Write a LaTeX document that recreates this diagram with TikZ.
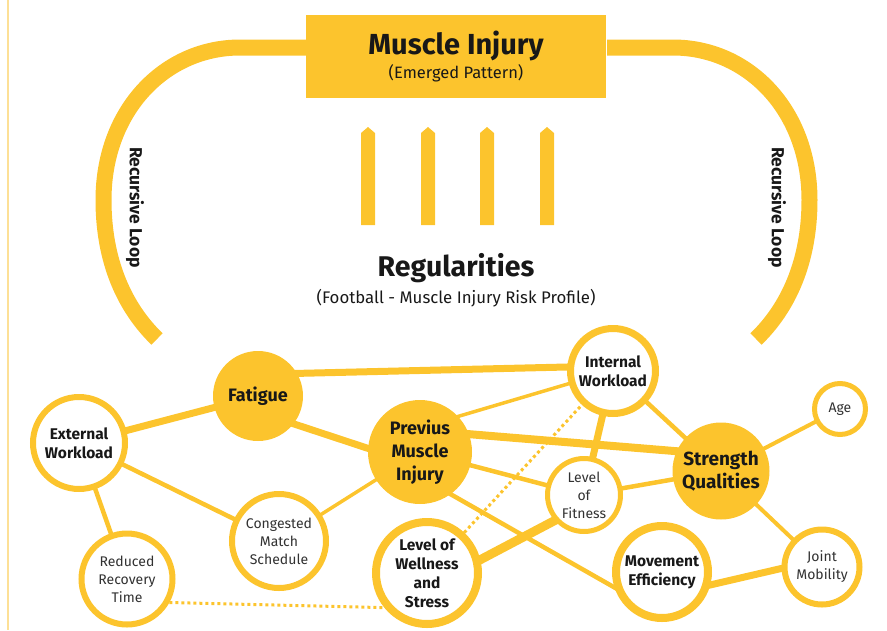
\documentclass[tikz,border=0pt]{standalone}
\usepackage{fontspec}
\setmainfont{Fira Sans}
\definecolor{gold}{RGB}{252,196,45}
\definecolor{palegold}{RGB}{253,224,150}
\definecolor{ink}{RGB}{24,24,24}
\definecolor{softink}{RGB}{50,50,50}

\begin{document}
\begin{tikzpicture}[x=1pt,y=-1pt,
  ring/.style={circle,draw=gold,fill=white,line width=6pt,inner sep=0pt,align=center,
    text=softink,font=\fontsize{14}{18}\selectfont},
  boldring/.style={ring,text=ink,font=\fontsize{15.5}{19}\selectfont\bfseries},
  hub/.style={circle,fill=gold,inner sep=0pt,align=center,text=ink,
    font=\fontsize{18}{23}\selectfont\bfseries},
  link/.style={draw=gold,line width=4.5pt,shorten <=-3pt,shorten >=-3pt},
  thinlink/.style={link,line width=3.5pt},
  heavylink/.style={link,line width=7pt},
  dotlink/.style={draw=gold,line width=3pt,dash pattern=on 3pt off 3pt},
  loopline/.style={draw=gold,line width=16pt},
  bar/.style={fill=gold}]
  \useasboundingbox (0,0) rectangle (887,630);
  \draw[palegold,line width=2pt] (8,0) -- (8,630);

  % top: emerged pattern and the two loops
  \draw (456,56.5) node[fill=gold,minimum width=300pt,minimum height=83pt,align=center,text=ink] (mi)
    {{\fontsize{29}{32}\selectfont\bfseries Muscle Injury}\\[3pt]{\fontsize{16.5}{19}\selectfont (Emerged Pattern)}};
  \draw[loopline] (306,47.5) -- (240,47.5) .. controls (165,47.5) and (103.5,110) .. (103.5,200)
    .. controls (103.5,262) and (125,308) .. (157,339);
  \draw[loopline] (607,47.5) -- (673,47.5) .. controls (748,47.5) and (809.5,110) .. (809.5,200)
    .. controls (809.5,262) and (788,308) .. (756,339);
  \draw (135,207.5) node[rotate=-90,text=ink,font=\fontsize{17.5}{20}\selectfont\bfseries] (loopl) {Recursive Loop};
  \draw (777,207.5) node[rotate=-90,text=ink,font=\fontsize{17.5}{20}\selectfont\bfseries] (loopr) {Recursive Loop};

  % arrows up
  \fill[bar] (361,225) -- (361,133) -- (368,127) -- (375,133) -- (375,225) -- cycle;
  \fill[bar] (421,225) -- (421,133) -- (428,127) -- (435,133) -- (435,225) -- cycle;
  \fill[bar] (480,225) -- (480,133) -- (487,127) -- (494,133) -- (494,225) -- cycle;
  \fill[bar] (540,225) -- (540,133) -- (547,127) -- (554,133) -- (554,225) -- cycle;

  \draw (456,268) node[text=ink,font=\fontsize{28.5}{32}\selectfont\bfseries] (reg) {Regularities};
  \draw (456,298) node[text=ink,font=\fontsize{16.8}{19}\selectfont] (regsub) {(Football - Muscle Injury Risk Profile)};

  % network
  \draw (79,443) node[boldring,minimum size=92pt] (ew) {External\\Workload};
  \draw (258,396) node[hub,minimum size=90pt] (fat) {Fatigue};
  \draw (420,452) node[hub,minimum size=104pt] (pmi) {Previus\\Muscle\\Injury};
  \draw (279,541) node[ring,minimum size=94pt] (cms) {Congested\\Match\\Schedule};
  \draw (127,579) node[ring,minimum size=91pt] (rrt) {Reduced\\Recovery\\Time};
  \draw (427,573) node[boldring,line width=8pt,minimum size=102pt] (wls) {Level of\\Wellness\\and\\Stress};
  \draw (613,371) node[boldring,line width=7pt,minimum size=85pt] (iw) {Internal\\Workload};
  \draw (584,495) node[ring,line width=5pt,minimum size=73pt] (lof) {Level\\of\\Fitness};
  \draw (721,471) node[hub,minimum size=97pt,font=\fontsize{19}{23}\selectfont\bfseries] (sq) {Strength\\Qualities};
  \draw (840,409) node[ring,line width=5pt,minimum size=51pt] (age) {Age};
  \draw (662,572) node[boldring,line width=8pt,minimum size=92pt] (me) {Movement\\Efficiency};
  \draw (822,567) node[ring,minimum size=75pt] (jm) {Joint\\Mobility};

  \draw[heavylink] (ew) -- (fat);
  \draw[heavylink] (fat.30) -- (iw.175);
  \draw[heavylink] (fat.-38) -- (pmi.176);
  \draw[link] (ew) -- (cms);
  \draw[link] (ew) -- (rrt);
  \draw[thinlink] (cms) -- (pmi);
  \draw[thinlink] (pmi.43) -- (iw.196);
  \draw[heavylink,line width=8pt] (pmi.20) -- (sq.156);
  \draw[link] (pmi) -- (lof);
  \draw[link] (pmi.-54) -- (me.198);
  \draw[heavylink] (iw) -- (lof);
  \draw[link] (iw) -- (sq);
  \draw[link] (lof) -- (sq);
  \draw[heavylink,line width=9pt] (lof.221) -- (wls.14);
  \draw[link,line width=4pt] (sq) -- (age);
  \draw[link,line width=4pt] (sq) -- (jm);
  \draw[heavylink] (me.-15) -- (jm.182);
  \draw[dotlink] (wls) -- (iw);
  \draw[dotlink] (rrt.-29) -- (wls.219);
\end{tikzpicture}
\end{document}
